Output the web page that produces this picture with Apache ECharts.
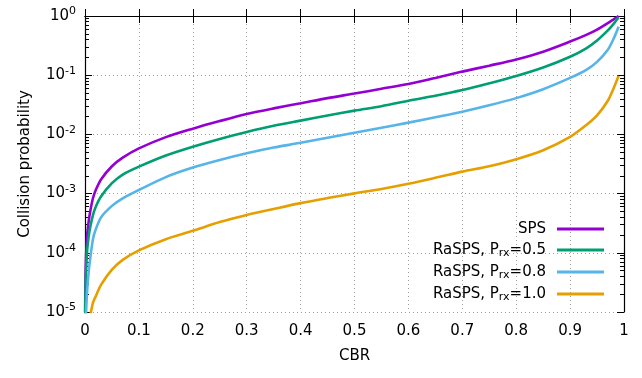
<!DOCTYPE html>
<html>
<head>
    <meta charset="utf-8">
    <title>Collision probability</title>
    <style>
        html, body { margin: 0; padding: 0; background: #fff; }
    </style>
</head>
<body>
    <div id="main" style="width:642px;height:378px"></div>
    <script src="https://cdn.jsdelivr.net/npm/echarts@6/dist/echarts.min.js"></script>
    <script type="text/javascript">

        // CBR sample points shared by all curves
        const CBR = [0.0002, 0.001, 0.002, 0.004, 0.007, 0.01, 0.015, 0.02, 0.03, 0.05, 0.07,
            0.1, 0.15, 0.2, 0.25, 0.3, 0.35, 0.4, 0.45, 0.5, 0.55, 0.6, 0.65, 0.7, 0.75,
            0.8, 0.85, 0.9, 0.93, 0.95, 0.97, 0.98, 0.99];

        const SPS = [1e-5, 4e-5, 9e-5, 2e-4, 3.5e-4, 5.2e-4, 8.5e-4, 1.15e-3, 1.75e-3, 2.9e-3, 4.05e-3,
            5.8e-3, 9e-3, 0.0125, 0.0168, 0.0221, 0.0275, 0.0335, 0.041, 0.049, 0.059, 0.071, 0.09, 0.115, 0.145,
            0.185, 0.25, 0.37, 0.48, 0.59, 0.76, 0.87, 1.0];

        const RASPS_05 = [5e-6, 2.5e-5, 5e-5, 1.1e-4, 1.95e-4, 2.8e-4, 4.4e-4, 6e-4, 9e-4, 1.5e-3, 2.1e-3,
            2.85e-3, 4.4e-3, 6.2e-3, 8.4e-3, 0.011, 0.014, 0.0171, 0.0208, 0.0252, 0.03, 0.037, 0.045, 0.056, 0.073,
            0.097, 0.135, 0.205, 0.285, 0.385, 0.57, 0.72, 0.95];

        const RASPS_08 = [1e-6, 5e-6, 1e-5, 2.3e-5, 5e-5, 8.5e-5, 1.75e-4, 2.5e-4, 4e-4, 6.2e-4, 8.3e-4,
            1.15e-3, 1.9e-3, 2.75e-3, 3.7e-3, 4.8e-3, 6e-3, 7.2e-3, 8.8e-3, 0.0107, 0.013, 0.0158, 0.0195, 0.0242, 0.031,
            0.041, 0.058, 0.09, 0.123, 0.168, 0.27, 0.40, 0.66];

        const RASPS_10 = [2e-7, 1e-6, 2e-6, 4e-6, 6.5e-6, 9e-6, 1.45e-5, 1.85e-5, 2.9e-5, 5.2e-5, 7.6e-5,
            1.1e-4, 1.7e-4, 2.35e-4, 3.3e-4, 4.35e-4, 5.5e-4, 6.9e-4, 8.4e-4, 1.01e-3, 1.2e-3, 1.47e-3, 1.85e-3, 2.35e-3, 2.9e-3,
            3.8e-3, 5.4e-3, 9.1e-3, 0.0144, 0.021, 0.037, 0.058, 0.098];

        const SERIES_NAMES = ['SPS', 'RaSPS, Prx=0.5', 'RaSPS, Prx=0.8', 'RaSPS, Prx=1.0'];
        const LEGEND_LABELS = ['SPS', 'RaSPS, P{sub|rx}=0.5', 'RaSPS, P{sub|rx}=0.8', 'RaSPS, P{sub|rx}=1.0'];
        const SERIES_VALUES = [SPS, RASPS_05, RASPS_08, RASPS_10];
        const COLORS = ['#9400d3', '#009e73', '#56b4e9', '#e69f00'];

        // gnuplot style minor log ticks 2..9 x 10^n, as exponents
        const MINOR_EXP = [];
        for (let e = -5; e < 0; e++) {
            for (let m = 2; m <= 9; m++) {
                MINOR_EXP.push(e + Math.log10(m));
            }
        }

        const FONT = 'DejaVu Sans';

        function pairs(xs, ys) {
            let out = [];
            for (let i = 0; i < xs.length; i++) {
                out.push([xs[i], ys[i]]);
            }
            return out;
        }

        let myChart = echarts.init(document.getElementById('main'));

        const yBase = {
            type: 'log',
            logBase: 10,
            min: 1e-5,
            max: 1,
            splitNumber: 5,
        };
        // hidden exponent axis, only used to place the minor ticks
        const yMinor = {
            type: 'value',
            min: -5,
            max: 0,
            interval: 1,
            axisLine: { show: false },
            axisLabel: { show: false },
            splitLine: { show: false },
            axisTick: { show: true, inside: true, length: 4, customValues: MINOR_EXP, lineStyle: { color: '#000' } },
        };
        const xBase = {
            type: 'value',
            min: 0,
            max: 1,
            interval: 0.1,
        };

        let series = [];
        for (let i = 0; i < SERIES_NAMES.length; i++) {
            series.push({
                name: SERIES_NAMES[i],
                type: 'line',
                data: pairs(CBR, SERIES_VALUES[i]),
                smooth: 0.3,
                symbol: 'none',
                clip: true,
                lineStyle: { color: COLORS[i], width: 2.6 },
                itemStyle: { color: COLORS[i] },
            });
        }

        let option = {
            animation: false,
            backgroundColor: '#fff',
            textStyle: { fontFamily: FONT },
            grid: { left: 85, right: 18, top: 16, bottom: 66 },
            legend: {
                data: SERIES_NAMES,
                orient: 'vertical',
                right: 38,
                top: 221,
                padding: 0,
                align: 'right',
                icon: 'rect',
                itemWidth: 47,
                itemHeight: 3,
                itemGap: 5,
                selectedMode: false,
                formatter: function (name) {
                    return LEGEND_LABELS[SERIES_NAMES.indexOf(name)];
                },
                textStyle: {
                    fontFamily: FONT,
                    fontSize: 15,
                    color: '#000',
                    padding: [0, 6, 0, 0],
                    lineHeight: 16,
                    rich: {
                        sub: { fontFamily: FONT, fontSize: 11, color: '#000', padding: [7, 0, 0, 0] },
                    },
                },
            },
            xAxis: [
                Object.assign({}, xBase, {
                    position: 'bottom',
                    name: 'CBR',
                    nameLocation: 'middle',
                    nameGap: 37,
                    nameTextStyle: { fontFamily: FONT, fontSize: 15, color: '#000' },
                    axisLine: { lineStyle: { color: '#000', width: 1.2 } },
                    axisTick: { inside: true, length: 7, lineStyle: { color: '#000' } },
                    axisLabel: {
                        fontFamily: FONT, fontSize: 15, color: '#000', margin: 12,
                        formatter: function (v) { return String(+v.toFixed(1)); },
                    },
                    splitLine: { show: true, lineStyle: { color: '#a0a0a0', type: [1, 3], width: 1 } },
                }),
                Object.assign({}, xBase, {
                    position: 'top',
                    axisLine: { lineStyle: { color: '#000', width: 1.2 } },
                    axisTick: { inside: true, length: 7, lineStyle: { color: '#000' } },
                    axisLabel: { show: false },
                    splitLine: { show: false },
                }),
            ],
            yAxis: [
                Object.assign({}, yBase, {
                    position: 'left',
                    name: 'Collision probability',
                    nameLocation: 'middle',
                    nameGap: 52,
                    nameTextStyle: { fontFamily: FONT, fontSize: 15, color: '#000' },
                    axisLine: { show: true, lineStyle: { color: '#000', width: 1.2 } },
                    axisTick: { show: true, inside: true, length: 7, lineStyle: { color: '#000' } },
                    axisLabel: {
                        fontFamily: FONT, fontSize: 15, color: '#000', margin: 9,
                        formatter: function (v) {
                            return '10{sup|' + Math.round(Math.log10(v)) + '}';
                        },
                        rich: {
                            sup: { fontFamily: FONT, fontSize: 11, color: '#000', padding: [0, 0, 9, 0] },
                        },
                    },
                    splitLine: { show: true, lineStyle: { color: '#a0a0a0', type: [1, 3], width: 1 } },
                }),
                Object.assign({}, yMinor, { position: 'left' }),
                Object.assign({}, yBase, {
                    position: 'right',
                    axisLine: { show: true, lineStyle: { color: '#000', width: 1.2 } },
                    axisTick: { show: true, inside: true, length: 7, lineStyle: { color: '#000' } },
                    axisLabel: { show: false },
                    splitLine: { show: false },
                }),
                Object.assign({}, yMinor, { position: 'right' }),
            ],
            series: series,
        };
        myChart.setOption(option);

    </script>
</body>
</html>
